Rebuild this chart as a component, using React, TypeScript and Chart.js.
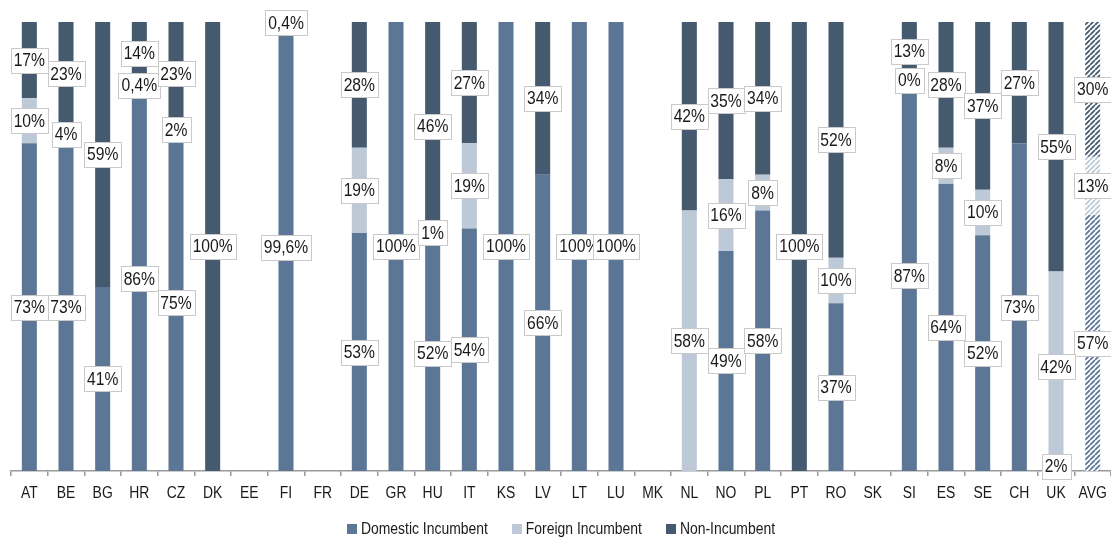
import React, { useEffect, useRef } from "react";
import { Chart, registerables } from "chart.js";

Chart.register(...registerables);

const categories = ["AT","BE","BG","HR","CZ","DK","EE","FI","FR","DE","GR","HU","IT","KS","LV","LT","LU","MK","NL","NO","PL","PT","RO","SK","SI","ES","SE","CH","UK","AVG"];
const domestic = [73,73,41,86,75,null,null,99.6,null,53,100,52,54,100,66,100,100,null,null,49,58,null,37,null,87,64,52,73,2,57];
const foreign = [10,4,null,0.4,2,null,null,null,null,19,null,1,19,null,null,null,null,null,58,16,8,null,10,null,0,8,10,null,42,13];
const nonIncumbent = [17,23,59,14,23,100,null,0.4,null,28,null,46,27,null,34,null,null,null,42,35,34,100,52,null,13,28,37,27,55,30];
const seriesNames = ["Domestic Incumbent", "Foreign Incumbent", "Non-Incumbent"];
const seriesColors = ["#5B7795", "#BDC9D7", "#45596F"];

const FONT = "'Liberation Sans', Arial, sans-serif";
const NARROW = 0.87;

// 100%-stacked: each column is scaled to its own total, labels keep the raw values
const series = [domestic, foreign, nonIncumbent];
const totals = categories.map((_, j) => series.reduce((a, s) => a + (s[j] ?? 0), 0));
const normalize = (s: (number | null)[]) =>
  s.map((v, j) => (v === null ? null : totals[j] ? (v / totals[j]) * 100 : 0));

function makePattern(color: string): CanvasPattern | string {
  const s = 5;
  const c = document.createElement("canvas");
  c.width = s;
  c.height = s;
  const g = c.getContext("2d");
  if (!g) return color;
  g.fillStyle = "#ffffff";
  g.fillRect(0, 0, s, s);
  g.strokeStyle = color;
  g.lineWidth = 1.8;
  g.beginPath();
  for (const k of [-s, 0, s]) {
    g.moveTo(k, s);
    g.lineTo(k + s, 0);
  }
  g.stroke();
  const p = g.createPattern(c, "repeat");
  return p || color;
}

const fmt = (v: number) => String(v).replace(".", ",") + "%";

function narrowText(ctx: CanvasRenderingContext2D, text: string, x: number, y: number, align: "left" | "center", k = NARROW) {
  ctx.save();
  ctx.translate(x, y);
  ctx.scale(k, 1);
  ctx.textAlign = align;
  ctx.fillText(text, 0, 0);
  ctx.restore();
}

const labelPlugin = {
  id: "boxLabels",
  afterDatasetsDraw(chart: any) {
    const ctx = chart.ctx;
    ctx.save();
    ctx.font = `18px ${FONT}`;
    ctx.textBaseline = "middle";
    const k = 0.87;
    chart.data.datasets.forEach((ds: any, i: number) => {
      const meta = chart.getDatasetMeta(i);
      const raw = series[i];
      meta.data.forEach((el: any, j: number) => {
        const v = raw[j];
        if (v === null || v === undefined) return;
        const { x, y, base } = el.getProps(["x", "y", "base"], true);
        const cy = (y + base) / 2;
        const tw = ctx.measureText(fmt(v)).width * k;
        const w = Math.round(tw + 6);
        const h = 25;
        const bx = Math.round(x - w / 2) + 0.5;
        const by = Math.round(cy - h / 2) + 0.5;
        ctx.fillStyle = "#ffffff";
        ctx.fillRect(bx, by, w, h);
        ctx.strokeStyle = "#C9C9C9";
        ctx.lineWidth = 1;
        ctx.strokeRect(bx, by, w, h);
        ctx.fillStyle = "#1a1a1a";
        narrowText(ctx, fmt(v), x, cy + 1, "center", k);
      });
    });
    ctx.restore();
  },
  afterDraw(chart: any) {
    const ctx = chart.ctx;
    ctx.save();
    // x category labels
    ctx.font = `16px ${FONT}`;
    ctx.textBaseline = "middle";
    ctx.fillStyle = "#1a1a1a";
    const xs = chart.scales.x;
    categories.forEach((c, i) => {
      narrowText(ctx, c, xs.getPixelForValue(i), 494, "center");
    });
    // legend
    const box = 10, gap = 4, itemGap = 24;
    const widths = seriesNames.map((n) => ctx.measureText(n).width * NARROW);
    const total = widths.reduce((a, b) => a + box + gap + b, 0) + itemGap * (seriesNames.length - 1);
    const center = (chart.chartArea.left + chart.chartArea.right) / 2;
    let x = center - total / 2;
    const y = 529;
    seriesNames.forEach((n, i) => {
      ctx.fillStyle = seriesColors[i];
      ctx.fillRect(Math.round(x), y - 5, box, box);
      ctx.fillStyle = "#1a1a1a";
      narrowText(ctx, n, x + box + gap, y + 1, "left");
      x += box + gap + widths[i] + itemGap;
    });
    ctx.restore();
  },
};

export default function App() {
  const ref = useRef<HTMLCanvasElement | null>(null);
  useEffect(() => {
    document.body.style.margin = "0";
    if (!ref.current) return;
    const avgIdx = categories.indexOf("AVG");
    const mk = (data: (number | null)[], color: string, label: string) => {
      const pat = makePattern(color);
      return {
        label,
        data: normalize(data),
        backgroundColor: data.map((_, j) => (j === avgIdx ? pat : color)),
        borderWidth: 0,
        categoryPercentage: 1,
        barPercentage: 0.41,
      };
    };
    const chart = new Chart(ref.current, {
      type: "bar",
      data: {
        labels: categories,
        datasets: [
          mk(domestic, seriesColors[0], seriesNames[0]),
          mk(foreign, seriesColors[1], seriesNames[1]),
          mk(nonIncumbent, seriesColors[2], seriesNames[2]),
        ] as any,
      },
      options: {
        animation: false,
        responsive: false,
        maintainAspectRatio: false,
        layout: { padding: { left: 11, right: 0, top: 22, bottom: 65 } },
        plugins: {
          legend: { display: false },
          tooltip: { enabled: false },
        },
        scales: {
          x: {
            stacked: true,
            offset: true,
            grid: {
              display: true,
              drawOnChartArea: false,
              drawTicks: true,
              tickLength: 5,
              color: "#9a9a9a",
              lineWidth: 1.5,
            },
            border: { display: true, color: "#9a9a9a", width: 1.5 },
            ticks: { display: false },
          },
          y: {
            stacked: true,
            display: false,
            min: 0,
            max: 100,
          },
        },
      },
      plugins: [labelPlugin],
    });
    return () => chart.destroy();
  }, []);
  return (
    <div style={{ width: 1111, height: 541, background: "#fff" }}>
      <canvas ref={ref} width={1111} height={541} style={{ display: "block" }} />
    </div>
  );
}
